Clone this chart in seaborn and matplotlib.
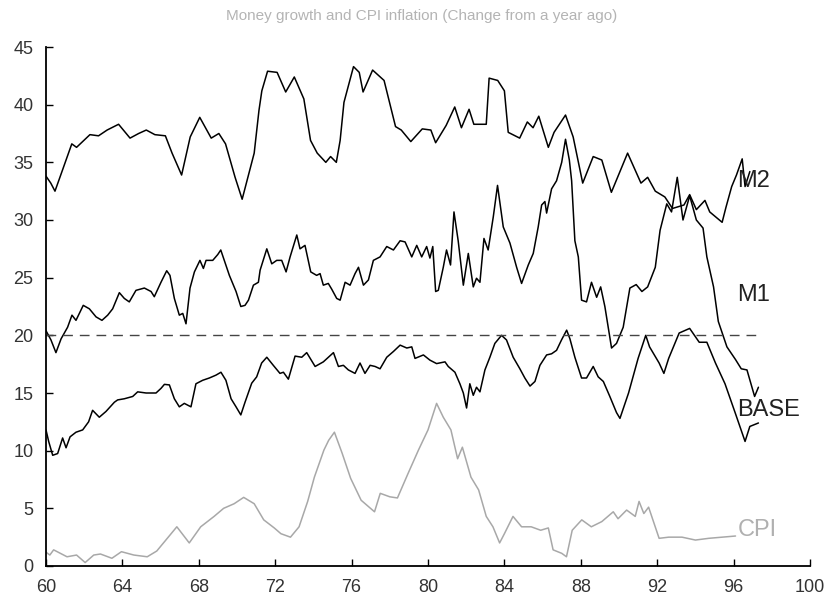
import matplotlib
matplotlib.use("Agg")
import matplotlib.pyplot as plt
import numpy as np
import pandas as pd
import seaborn as sns
from matplotlib.ticker import MultipleLocator

# ---------------- data ----------------
m2_year = [60.0, 60.25, 60.47, 60.9, 61.35, 61.6, 62.3, 62.75, 63.2, 63.8, 64.4, 64.85, 65.25, 65.7,
           66.25, 66.6, 67.1, 67.55, 68.05, 68.65, 69.05, 69.4, 69.9, 70.27, 70.9, 71.15, 71.3, 71.6,
           72.1, 72.55, 73.0, 73.5, 73.85, 74.2, 74.65, 74.9, 75.2, 75.4, 75.6, 76.1, 76.4, 76.6,
           77.1, 77.7, 78.3, 78.6, 79.1, 79.7, 80.15, 80.4, 80.95, 81.4, 81.75, 82.15, 82.4, 83.05,
           83.2, 83.65, 84.0, 84.2, 84.8, 85.2, 85.5, 85.8, 86.3, 86.6, 87.2, 87.6, 88.1, 88.65,
           89.1, 89.6, 90.45, 91.15, 91.5, 91.9, 92.4, 92.8, 93.4, 93.7, 94.05, 94.5, 94.75, 95.4,
           95.6, 95.9, 96.15, 96.45, 96.6, 96.85]
m2_val = [33.8, 33.2, 32.5, 34.5, 36.6, 36.3, 37.4, 37.3, 37.8, 38.3, 37.1, 37.5, 37.8, 37.4,
          37.3, 35.8, 33.9, 37.2, 38.9, 37.1, 37.5, 36.6, 33.7, 31.8, 35.8, 39.5, 41.2, 42.9,
          42.8, 41.1, 42.4, 40.5, 36.9, 35.8, 35.0, 35.5, 35.0, 36.9, 40.2, 43.3, 42.8, 41.1,
          43.0, 42.1, 38.1, 37.8, 36.8, 37.9, 37.8, 36.7, 38.2, 39.8, 38.0, 39.6, 38.3, 38.3,
          42.3, 42.1, 41.2, 37.6, 37.1, 38.5, 38.0, 39.0, 36.3, 37.6, 39.1, 37.2, 33.2, 35.5,
          35.2, 32.4, 35.8, 33.2, 33.7, 32.5, 32.0, 31.0, 31.3, 32.2, 30.9, 31.7, 30.7, 29.8,
          31.1, 32.9, 33.9, 35.3, 32.9, 34.2]

m1_year = [60.0, 60.26, 60.52, 60.79, 61.13, 61.36, 61.57, 61.95, 62.27, 62.62, 62.93, 63.23, 63.49,
           63.84, 64.1, 64.36, 64.71, 65.15, 65.5, 65.67, 66.02, 66.32, 66.49, 66.72, 66.98, 67.16,
           67.33, 67.54, 67.77, 68.06, 68.24, 68.38, 68.73, 68.99, 69.15, 69.6, 69.95, 70.2, 70.42,
           70.6, 70.86, 71.12, 71.21, 71.56, 71.82, 72.08, 72.34, 72.57, 72.78, 73.13, 73.3, 73.56,
           73.86, 74.17, 74.35, 74.52, 74.78, 74.96, 75.22, 75.4, 75.66, 75.92, 76.18, 76.36, 76.62,
           76.88, 77.14, 77.49, 77.84, 78.19, 78.54, 78.8, 79.15, 79.41, 79.67, 79.93, 80.1, 80.25,
           80.4, 80.54, 80.8, 80.97, 81.18, 81.36, 81.58, 81.85, 82.11, 82.37, 82.54, 82.72, 82.93,
           83.15, 83.42, 83.64, 83.94, 84.29, 84.64, 84.9, 85.25, 85.51, 85.77, 85.95, 86.12, 86.21,
           86.47, 86.73, 87.0, 87.2, 87.4, 87.52, 87.69, 87.87, 88.04, 88.3, 88.56, 88.83, 89.04,
           89.26, 89.61, 89.87, 90.22, 90.57, 90.9, 91.2, 91.5, 91.9, 92.15, 92.5, 92.75, 93.05,
           93.35, 93.7, 94.05, 94.4, 94.6, 94.95, 95.2, 95.65, 96.1, 96.4, 96.7, 97.1, 97.3]
m1_val = [20.4, 19.6, 18.5, 19.7, 20.7, 21.75, 21.3, 22.6, 22.3, 21.6, 21.3, 21.75, 22.3,
          23.7, 23.2, 22.9, 23.9, 24.1, 23.8, 23.35, 24.6, 25.6, 25.2, 23.2, 21.75, 21.9,
          21.0, 24.1, 25.5, 26.5, 25.8, 26.5, 26.5, 27.0, 27.4, 25.2, 23.8, 22.5, 22.6,
          23.05, 24.35, 24.6, 25.65, 27.5, 26.2, 26.5, 26.5, 25.5, 26.8, 28.7, 27.5, 27.8,
          25.5, 25.2, 25.35, 24.35, 24.5, 24.0, 23.2, 23.05, 24.6, 24.35, 25.35, 25.9, 24.35,
          24.8, 26.5, 26.8, 27.7, 27.4, 28.2, 28.1, 26.8, 27.8, 26.8, 27.7, 26.7, 27.7,
          23.8, 23.9, 25.9, 27.4, 26.1, 30.7, 28.2, 24.35, 27.1, 24.2, 24.95, 24.6, 28.4,
          27.4, 30.3, 33.0, 29.4, 28.0, 25.9, 24.5, 26.1, 27.1, 29.4, 31.3, 31.6, 30.6,
          32.7, 33.4, 35.0, 37.0, 35.2, 33.4, 28.2, 26.8, 23.05, 22.9, 24.6, 23.3, 24.2,
          22.5, 18.9, 19.3, 20.7, 24.1, 24.4, 23.8, 24.2, 25.9, 29.1, 31.4, 30.7, 33.7,
          30.0, 32.1, 30.0, 29.3, 26.8, 24.2, 21.2, 19.0, 17.9, 17.1, 17.0, 14.7, 15.5]

base_year = [60.0, 60.14, 60.35, 60.61, 60.87, 61.05, 61.26, 61.57, 61.92, 62.23, 62.44, 62.79, 63.14,
             63.58, 63.75, 64.1, 64.54, 64.8, 65.24, 65.76, 66.02, 66.2, 66.46, 66.72, 66.98, 67.24,
             67.59, 67.85, 68.2, 68.55, 68.9, 69.16, 69.42, 69.69, 69.95, 70.2, 70.42, 70.77, 71.03,
             71.29, 71.56, 71.9, 72.25, 72.43, 72.69, 73.04, 73.39, 73.65, 74.09, 74.52, 75.05, 75.31,
             75.57, 75.83, 76.18, 76.44, 76.7, 76.97, 77.23, 77.49, 77.84, 78.19, 78.54, 78.89, 79.15,
             79.32, 79.76, 80.1, 80.45, 80.89, 81.06, 81.41, 81.67, 81.85, 82.02, 82.19, 82.37, 82.54,
             82.72, 82.98, 83.24, 83.5, 83.85, 84.11, 84.46, 84.81, 85.07, 85.34, 85.6, 85.86, 86.21,
             86.47, 86.73, 86.99, 87.26, 87.43, 87.69, 88.04, 88.3, 88.65, 88.91, 89.18, 89.52, 89.87,
             90.05, 90.5, 91.0, 91.4, 91.6, 92.1, 92.35, 92.6, 93.15, 93.7, 94.2, 94.6, 95.05, 95.55,
             96.1, 96.6, 96.85, 97.3]
base_val = [11.8, 10.8, 9.6, 9.75, 11.1, 10.25, 11.2, 11.6, 11.8, 12.5, 13.5, 12.9, 13.4,
            14.2, 14.4, 14.5, 14.7, 15.1, 15.0, 15.0, 15.4, 15.75, 15.7, 14.5, 13.8, 14.1,
            13.8, 15.8, 16.1, 16.3, 16.55, 16.8, 16.1, 14.5, 13.8, 13.1, 14.2, 15.85, 16.4,
            17.6, 18.1, 17.4, 16.7, 16.8, 16.2, 18.2, 18.1, 18.5, 17.3, 17.7, 18.5, 17.3,
            17.4, 17.0, 16.7, 17.6, 16.7, 17.4, 17.3, 17.1, 18.1, 18.6, 19.15, 18.9, 19.0,
            18.0, 18.3, 17.85, 17.55, 17.7, 17.3, 16.8, 15.8, 15.0, 13.7, 15.8, 14.8, 15.5,
            15.1, 17.0, 18.1, 19.3, 20.0, 19.6, 18.1, 17.1, 16.3, 15.6, 16.0, 17.4, 18.3,
            18.4, 18.7, 19.6, 20.45, 19.7, 18.1, 16.3, 16.3, 17.3, 16.4, 16.0, 14.7, 13.3,
            12.8, 15.0, 18.0, 20.0, 19.0, 17.6, 16.7, 18.0, 20.2, 20.6, 19.4, 19.4, 17.6, 15.8,
            13.2, 10.8, 12.1, 12.4]

cpi_year = [60.0, 60.2, 60.4, 61.1, 61.6, 62.05, 62.5, 62.85, 63.45, 63.95, 64.6, 65.3, 65.8, 66.35,
            66.85, 67.5, 68.1, 68.8, 69.3, 69.85, 70.35, 70.9, 71.4, 71.95, 72.3, 72.8, 73.25, 73.7,
            74.05, 74.55, 74.8, 75.1, 75.5, 75.95, 76.5, 77.2, 77.5, 78.0, 78.4, 78.95, 79.5, 80.0,
            80.45, 80.8, 81.2, 81.55, 81.8, 82.25, 82.65, 83.05, 83.4, 83.75, 84.0, 84.45, 84.9,
            85.4, 85.9, 86.3, 86.55, 87.0, 87.25, 87.55, 88.05, 88.55, 89.1, 89.7, 89.95, 90.4,
            90.85, 91.05, 91.3, 91.55, 92.1, 92.6, 93.3, 94.0, 94.7, 95.4, 96.1]
cpi_val = [1.2, 0.95, 1.4, 0.8, 0.95, 0.3, 0.95, 1.04, 0.67, 1.24, 0.95, 0.8, 1.3, 2.4,
           3.4, 2.0, 3.4, 4.3, 5.0, 5.4, 5.95, 5.4, 4.0, 3.3, 2.8, 2.5, 3.4, 5.6,
           7.7, 10.05, 10.9, 11.6, 9.8, 7.6, 5.7, 4.7, 6.3, 6.0, 5.9, 8.0, 10.05, 11.8,
           14.1, 12.9, 11.8, 9.3, 10.3, 7.7, 6.6, 4.3, 3.4, 2.0, 2.8, 4.3, 3.4,
           3.4, 3.1, 3.3, 1.4, 1.1, 0.8, 3.1, 4.0, 3.4, 3.85, 4.7, 4.1, 4.85,
           4.3, 5.6, 4.55, 5.1, 2.4, 2.5, 2.5, 2.25, 2.4, 2.5, 2.6]

series_names = ["M2", "M1", "BASE", "CPI"]
series_colors = {"M2": "black", "M1": "black", "BASE": "black", "CPI": "#a8a8a8"}
label_pos = {"M2": (96.2, 33.4), "M1": (96.2, 23.5), "BASE": (96.2, 13.5), "CPI": (96.2, 3.1)}
ref_level = 20
ref_span = (60, 97.3)
title = "Money growth and CPI inflation (Change from a year ago)"

# ---------------- plot ----------------
sns.set_theme(style="white")
plt.rcParams['font.family'] = ['Liberation Sans', 'DejaVu Sans']

frames = []
for name, yrs, vals in [("M2", m2_year, m2_val), ("M1", m1_year, m1_val),
                        ("BASE", base_year, base_val), ("CPI", cpi_year, cpi_val)]:
    frames.append(pd.DataFrame({"year": yrs, "value": vals, "series": name}))
df = pd.concat(frames, ignore_index=True)

fig = plt.figure(figsize=(8.32, 5.99), dpi=100)
ax = fig.add_axes([46 / 832, 33 / 599, (810 - 46) / 832, (566 - 47) / 599])

sns.lineplot(data=df, x="year", y="value", hue="series", hue_order=series_names,
             palette=series_colors, estimator=None, sort=False, linewidth=1.1,
             legend=False, ax=ax)

ax.hlines(ref_level, ref_span[0], ref_span[1], colors="#444444",
          linestyles=(0, (7, 5)), linewidth=1.0)

ax.set_xlim(60, 100)
ax.set_ylim(0, 45)
ax.xaxis.set_major_locator(MultipleLocator(4))
ax.xaxis.set_minor_locator(MultipleLocator(2))
ax.yaxis.set_major_locator(MultipleLocator(5))
ax.set_xlabel("")
ax.set_ylabel("")

for s in ["top", "right"]:
    ax.spines[s].set_visible(False)
for s in ["left", "bottom"]:
    ax.spines[s].set_color("black")
    ax.spines[s].set_linewidth(1.3)

ax.tick_params(axis="both", which="major", direction="in", length=5, width=1,
               color="black", labelcolor="#333333", labelsize=13, pad=9)
ax.tick_params(axis="x", which="minor", direction="in", length=5, width=1, color="black")
ax.tick_params(axis="x", which="major", bottom=True)
ax.tick_params(axis="y", which="major", left=True)

for name in series_names:
    x, y = label_pos[name]
    ax.text(x, y, name, ha="left", va="center", fontsize=17,
            color=("#b0b0b0" if name == "CPI" else "#222222"))

fig.text(422 / 832, 1 - 16 / 599, title, ha="center", va="center",
         fontsize=11, color="#b4b4b4")

fig.savefig("out.png", dpi=100)
